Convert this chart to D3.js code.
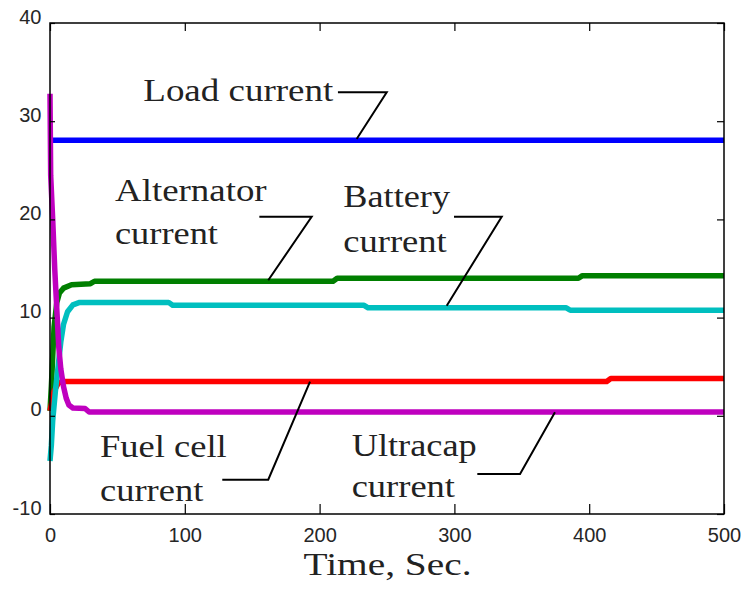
<!DOCTYPE html>
<html>
<head>
<meta charset="utf-8">
<script src="https://cdn.jsdelivr.net/npm/d3@7"></script>
<style>
  html, body { margin: 0; padding: 0; background: #fff; }
  svg { display: block; }
</style>
</head>
<body>
<svg id="chart" width="744" height="590"></svg>
<script>
// ---- Data (time in seconds, current in A) ----
const xTicks = [0, 100, 200, 300, 400, 500];
const yTicks = [-10, 0, 10, 20, 30, 40];
const xLabel = "Time, Sec.";

const loadTime = [0, 500];
const loadCurrent = [28.05, 28.05];

const altTime = [0, 1, 2, 3, 5, 7, 10, 16, 30, 33, 210, 213, 392, 395, 500];
const altCurrent = [0.5, 3, 6, 9, 11.5, 12.5, 13.0, 13.35, 13.45, 13.7, 13.7, 14.0, 14.0, 14.27, 14.27];

const fcTime = [0, 3, 6, 9, 413, 416, 500];
const fcCurrent = [0.5, 2.5, 3.3, 3.5, 3.5, 3.8, 3.8];

const batTime = [0, 1, 2, 4, 6, 8, 10, 13, 17, 22, 88, 91, 233, 236, 383, 386, 500];
const batCurrent = [-4.6, -3, -0.5, 2.5, 5, 7.5, 9.3, 10.6, 11.3, 11.55, 11.55, 11.25, 11.25, 11.0, 11.0, 10.75, 10.75];

const ucTime = [0, 0.5, 2, 3.5, 5, 6.5, 8, 10, 12, 14, 17, 26, 29, 500];
const ucCurrent = [32.8, 24.5, 20, 15, 11, 7, 4.8, 3, 1.8, 1.1, 0.8, 0.75, 0.38, 0.38];

const seriesNames = ["Load", "Alternator", "Fuel cell", "Battery", "Ultracap"];
const seriesColors = ["#0000ff", "#007f00", "#ff0000", "#00bfbf", "#bf00bf"];
const seriesTimes = [loadTime, altTime, fcTime, batTime, ucTime];
const seriesValues = [loadCurrent, altCurrent, fcCurrent, batCurrent, ucCurrent];

// Annotations in data coordinates: text lines and leader polyline
const annLines = [
  ["Load current"], ["Alternator", "current"], ["Battery", "current"],
  ["Fuel cell", "current"], ["Ultracap", "current"]
];
const annTextX = [69.2, 48.2, 217.6, 37.1, 223.8];
const annTextY = [[32.09], [21.90, 17.49], [21.23, 16.65], [-4.23, -8.65], [-4.06, -8.30]];
const annTextW = [[190], [151.7, 103], [106.7, 103.4], [126.7, 103.3], [125, 103.3]];
const annLeaderT = [[213.6, 249.8, 227.5], [155.3, 194.1, 161.9], [299.7, 335.1, 294.3], [127.8, 161.9, 192.9], [317.0, 348.7, 374.6]];
const annLeaderV = [[32.94, 32.94, 28.18], [20.27, 20.27, 13.8], [20.27, 20.27, 11.21], [-6.51, -6.51, 3.47], [-5.93, -5.93, 0.36]];

// ---- Layout ----
const mL = 50, mR = 724, mT = 23, mB = 514;
const svg = d3.select("#chart");
const x = d3.scaleLinear().domain([0, 500]).range([mL, mR]);
const y = d3.scaleLinear().domain([-10, 40]).range([mB, mT]);

// Series lines
const line = d3.line().x(d => x(d[0])).y(d => y(d[1]));
seriesTimes.forEach((ts, i) => {
  const pts = ts.map((t, j) => [t, seriesValues[i][j]]);
  svg.append("path")
    .datum(pts)
    .attr("d", line)
    .attr("fill", "none")
    .attr("stroke", seriesColors[i])
    .attr("stroke-width", 5.5)
    .attr("stroke-linejoin", "round");
});

// Box
svg.append("rect")
  .attr("x", mL).attr("y", mT)
  .attr("width", mR - mL).attr("height", mB - mT)
  .attr("fill", "none").attr("stroke", "#000").attr("stroke-width", 1.5);

// Axes (ticks inside)
const fmt = d => String(d);
const xAxisB = d3.axisBottom(x).tickValues(xTicks).tickFormat(fmt).tickSizeInner(-10).tickSizeOuter(0).tickPadding(16);
const xAxisT = d3.axisTop(x).tickValues(xTicks).tickSizeInner(-8).tickSizeOuter(0).tickFormat("");
const yAxisL = d3.axisLeft(y).tickValues(yTicks).tickFormat(fmt).tickSizeInner(-5).tickSizeOuter(0).tickPadding(9);
const yAxisR = d3.axisRight(y).tickValues(yTicks).tickSizeInner(-7).tickSizeOuter(0).tickFormat("");

function styleAxis(g) {
  g.select(".domain").remove();
  g.selectAll(".tick line").attr("stroke", "#000").attr("stroke-width", 1.2);
  g.selectAll(".tick text")
    .attr("fill", "#262626")
    .style("font-family", "'Liberation Sans', Arial, sans-serif")
    .style("font-size", "20px");
}
svg.append("g").attr("transform", `translate(0,${mB})`).call(xAxisB).call(styleAxis)
  .selectAll(".tick text").attr("dy", null).attr("y", 27.7);
svg.append("g").attr("transform", `translate(0,${mT})`).call(xAxisT).call(styleAxis);
svg.append("g").attr("transform", `translate(${mL},0)`).call(yAxisL).call(styleAxis)
  .selectAll(".tick text").attr("dy", "0").attr("x", -8.5);
svg.append("g").attr("transform", `translate(${mR},0)`).call(yAxisR).call(styleAxis);

// Annotations
const annG = svg.append("g");
annLines.forEach((lines, i) => {
  lines.forEach((txt, k) => {
    annG.append("text")
      .attr("x", x(annTextX[i]))
      .attr("y", y(annTextY[i][k]))
      .attr("textLength", annTextW[i][k])
      .attr("lengthAdjust", "spacingAndGlyphs")
      .attr("fill", "#222")
      .style("font-family", "'Liberation Serif', 'Times New Roman', serif")
      .style("font-size", "32px")
      .text(txt);
  });
  const pts = annLeaderT[i].map((t, j) => [x(t), y(annLeaderV[i][j])]);
  annG.append("path")
    .attr("d", d3.line()(pts))
    .attr("fill", "none")
    .attr("stroke", "#000")
    .attr("stroke-width", 2);
});

// X axis label
svg.append("text")
  .attr("x", (mL + mR) / 2 + 0.5)
  .attr("y", 575)
  .attr("text-anchor", "middle")
  .attr("textLength", 168)
  .attr("lengthAdjust", "spacingAndGlyphs")
  .attr("fill", "#222")
  .style("font-family", "'Liberation Serif', 'Times New Roman', serif")
  .style("font-size", "31px")
  .text(xLabel);
</script>
</body>
</html>
